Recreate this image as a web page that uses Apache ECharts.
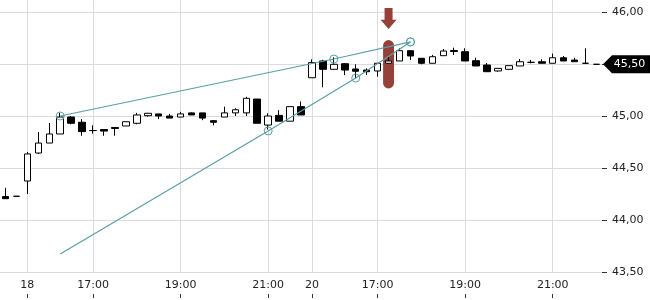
<!DOCTYPE html>
<html>
<head>
<meta charset="utf-8">
<script src="https://cdn.jsdelivr.net/npm/echarts@6/dist/echarts.min.js"></script>
<style>html,body{margin:0;padding:0;background:#fff}#c{width:650px;height:300px}</style>
</head>
<body>
<div id="c"></div>
<script>
// 15-minute candles (day + time)
const categories = [
  '17 21:30','17 21:45',
  '18 15:30','18 15:45','18 16:00','18 16:15','18 16:30','18 16:45','18 17:00','18 17:15','18 17:30','18 17:45',
  '18 18:00','18 18:15','18 18:30','18 18:45','18 19:00','18 19:15','18 19:30','18 19:45','18 20:00','18 20:15',
  '18 20:30','18 20:45','18 21:00','18 21:15','18 21:30','18 21:45',
  '20 15:30','20 15:45','20 16:00','20 16:15','20 16:30','20 16:45','20 17:00','20 17:15','20 17:30','20 17:45',
  '20 18:00','20 18:15','20 18:30','20 18:45','20 19:00','20 19:15','20 19:30','20 19:45','20 20:00','20 20:15',
  '20 20:30','20 20:45','20 21:00','20 21:15','20 21:30','20 21:45','20 22:00'
];
const openVals = [44.225,44.228,44.375,44.644,44.74,44.827,44.99,44.94,44.86,44.87,44.89,44.904,44.93,45.003,45.02,45.0,44.99,45.03,45.03,44.955,
  44.99,45.03,45.03,45.163,44.913,45.006,44.95,45.09,45.368,45.529,45.449,45.503,45.452,45.442,45.433,45.507,45.529,45.628,45.555,45.507,
  45.58,45.63,45.618,45.532,45.49,45.433,45.449,45.481,45.516,45.522,45.507,45.56,45.538,45.507,45.497];
const closeVals = [44.205,44.228,44.635,44.74,44.827,44.99,44.93,44.85,44.86,44.855,44.88,44.945,45.01,45.026,45.0,44.98,45.02,45.01,44.98,44.94,
  45.03,45.06,45.17,44.93,45.0,44.95,45.09,45.01,45.513,45.449,45.497,45.442,45.43,45.426,45.507,45.529,45.628,45.577,45.507,45.57,
  45.625,45.62,45.529,45.481,45.426,45.458,45.484,45.522,45.516,45.507,45.56,45.529,45.522,45.507,45.497];
const lowVals = [44.205,44.228,44.25,44.635,44.74,44.827,44.92,44.81,44.83,44.81,44.81,44.904,44.92,44.993,44.97,44.98,44.99,45.01,44.96,44.91,
  44.99,45.0,45.0,44.93,44.87,44.95,44.95,45.01,45.368,45.276,45.449,45.394,45.362,45.394,45.378,45.507,45.529,45.538,45.497,45.507,
  45.58,45.587,45.529,45.481,45.426,45.425,45.449,45.481,45.507,45.507,45.507,45.529,45.522,45.507,45.497];
const highVals = [44.31,44.228,44.654,44.846,44.933,45.03,45.0,44.97,44.91,44.87,44.89,44.945,45.03,45.03,45.02,45.02,45.04,45.035,45.03,44.955,
  45.09,45.075,45.185,45.163,45.026,45.055,45.09,45.14,45.545,45.54,45.564,45.51,45.497,45.458,45.507,45.57,45.651,45.628,45.555,45.587,
  45.644,45.657,45.651,45.56,45.51,45.458,45.484,45.548,45.538,45.545,45.6,45.577,45.56,45.651,45.497];

// trend lines: [category index, price]
const trendUpper = [[5,45.0],[30,45.548],[37,45.712]];
const trendLower = [[5,43.673],[24,44.856],[32,45.365],[37,45.712]];
const trendLowerMarked = [false,true,true,true];

// highlighted candle
const highlightIndex = 35;
const highlightLow = 45.265;
const highlightHigh = 45.73;

// y axis
const yMin = 43.5, yMax = 46.5, yStep = 0.5;

const FONT = 'DejaVu Sans';
const TEAL = '#5b9fa6';
const RED = '#96403a';
const GRIDC = '#dcdcdc';

function dayOf(c){return c.split(' ')[0];}
function timeOf(c){return c.split(' ')[1];}
function isLabelled(i){
  const c = categories[i];
  const t = timeOf(c);
  if (t === '15:30') return true;
  const h = parseInt(t.split(':')[0],10), m = t.split(':')[1];
  return m === '00' && h % 2 === 1;
}
function labelText(c){
  const t = timeOf(c);
  return t === '15:30' ? dayOf(c) : t;
}
const fmt = v => v.toFixed(2).replace('.', ',');

const candles = categories.map((c,i)=>[openVals[i], closeVals[i], lowVals[i], highVals[i]]);
const lastIdx = categories.length - 1;
const lastPrice = closeVals[lastIdx];

const chart = echarts.init(document.getElementById('c'), null, {renderer:'canvas'});
chart.setOption({
  animation: false,
  backgroundColor: '#fff',
  textStyle: {fontFamily: FONT},
  grid: [
    {left: 0, right: 48, top: -40, height: 312, containLabel: false, outerBoundsMode: 'none'},
    {left: 0, right: 48, top: 294, height: 4, containLabel: false, outerBoundsMode: 'none'}
  ],
  xAxis: [
    {
      type: 'category', data: categories, boundaryGap: true, gridIndex: 0,
      axisLine: {show: false}, axisTick: {show: false},
      axisLabel: {interval: (i)=>isLabelled(i), formatter: (v)=>labelText(v), margin: 8, fontSize: 11, color: '#222', fontFamily: FONT},
      splitLine: {show: true, alignWithLabel: true, interval: (i)=>isLabelled(i), lineStyle: {color: GRIDC, width: 1}}
    },
    {
      type: 'category', data: categories, boundaryGap: true, gridIndex: 1,
      axisLine: {show: false}, axisLabel: {show: false},
      axisTick: {show: true, inside: true, length: 4, alignWithLabel: true, interval: (i)=>isLabelled(i), lineStyle: {color: '#333'}},
      splitLine: {show: false}
    }
  ],
  yAxis: [
    {
      type: 'value', gridIndex: 0, position: 'right', min: yMin, max: yMax, interval: yStep, scale: true,
      axisLine: {show: false},
      axisTick: {show: true, length: 5, lineStyle: {color: '#333'}},
      axisLabel: {formatter: fmt, margin: 10, fontSize: 11, color: '#222', fontFamily: FONT},
      splitLine: {show: true, lineStyle: {color: GRIDC, width: 1}}
    },
    {type: 'value', gridIndex: 1, show: false}
  ],
  series: [
    {
      type: 'custom', xAxisIndex: 0, yAxisIndex: 0, z: 1, silent: true,
      data: [[highlightIndex, highlightLow, highlightHigh]],
      renderItem: function(params, api){
        const top = api.coord([api.value(0), api.value(2)]);
        const bot = api.coord([api.value(0), api.value(1)]);
        const w = api.size([1,0])[0];
        const cx = top[0];
        const tip = top[1] - 11;
        return {type: 'group', children: [
          {type: 'rect', shape: {x: cx - w/2, y: top[1], width: w, height: bot[1]-top[1], r: w/2}, style: {fill: RED}},
          {type: 'polygon', shape: {points: [
            [cx-4, tip-21],[cx+4, tip-21],[cx+4, tip-9.3],[cx+8, tip-9.3],[cx, tip],[cx-8, tip-9.3],[cx-4, tip-9.3]
          ]}, style: {fill: RED}}
        ]};
      }
    },
    {
      type: 'candlestick', xAxisIndex: 0, yAxisIndex: 0, z: 2, silent: true,
      data: candles, barWidth: 7,
      itemStyle: {color: '#fff', color0: '#000', borderColor: '#000', borderColor0: '#000', borderWidth: 1},
      markPoint: {
        silent: true, animation: false,
        symbol: 'path://M0,9L9,0L47,0L47,18L9,18Z',
        symbolSize: [47, 18], symbolOffset: [30, 0], symbolKeepAspect: false,
        itemStyle: {color: '#000'},
        label: {show: true, position: 'inside', color: '#fff', fontSize: 11, fontFamily: FONT, offset: [3, 0], formatter: (p)=>fmt(p.value)},
        data: [{coord: [lastIdx, lastPrice], value: lastPrice}]
      }
    },
    {
      type: 'line', xAxisIndex: 0, yAxisIndex: 0, z: 3, silent: true,
      data: trendUpper,
      symbol: 'circle', symbolSize: 8, showSymbol: true, showAllSymbol: true,
      lineStyle: {color: TEAL, width: 1.2},
      itemStyle: {color: 'rgba(0,0,0,0)', borderColor: TEAL, borderWidth: 1}
    },
    {
      type: 'line', xAxisIndex: 0, yAxisIndex: 0, z: 3, silent: true,
      data: trendLower.map((p,i)=>({value: p, symbol: trendLowerMarked[i] ? 'circle' : 'none'})),
      symbol: 'circle', symbolSize: 8, showSymbol: true, showAllSymbol: true,
      lineStyle: {color: TEAL, width: 1.2},
      itemStyle: {color: 'rgba(0,0,0,0)', borderColor: TEAL, borderWidth: 1}
    }
  ]
});
</script>
</body>
</html>
